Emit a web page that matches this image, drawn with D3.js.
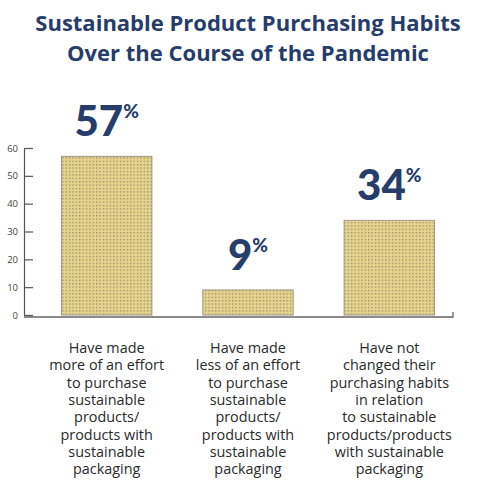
<!DOCTYPE html>
<html>
<head>
<meta charset="utf-8">
<script src="https://cdn.jsdelivr.net/npm/d3@7"></script>
<style>
  body { margin: 0; background: #fff; }
  svg { display: block; }
</style>
</head>
<body>
<div id="chart"></div>
<script>
// chart data
const categories = ["more", "less", "same"];
const values = [57, 9, 34];
const valueLabels = ["57", "9", "34"];
const categoryLines = [
  ["Have made", "more of an effort", "to purchase", "sustainable", "products/", "products with", "sustainable", "packaging"],
  ["Have made", "less of an effort", "to purchase", "sustainable", "products/", "products with", "sustainable", "packaging"],
  ["Have not", "changed their", "purchasing habits", "in relation", "to sustainable", "products/products", "with sustainable", "packaging"]
];
const yTicks = [0, 10, 20, 30, 40, 50, 60];
const titleLines = ["Sustainable Product Purchasing Habits", "Over the Course of the Pandemic"];

const width = 480;
const height = 492;
const navy = "#263d6b";
const font = "'Open Sans', sans-serif";

const svg = d3.select("#chart")
  .append("svg")
  .attr("width", width)
  .attr("height", height);

// dotted fill for the bars
const defs = svg.append("defs");
const pat = defs.append("pattern")
  .attr("id", "dots")
  .attr("patternUnits", "userSpaceOnUse")
  .attr("width", 3.4)
  .attr("height", 3.4);
pat.append("rect")
  .attr("width", 3.4)
  .attr("height", 3.4)
  .attr("fill", "#e4d38c");
pat.append("rect")
  .attr("x", 1)
  .attr("y", 1)
  .attr("width", 1.1)
  .attr("height", 1.1)
  .attr("fill", "#7a7058");

// title
svg.append("g")
  .selectAll("text")
  .data(titleLines)
  .enter()
  .append("text")
  .attr("x", 248)
  .attr("y", (d, i) => 31 + i * 30)
  .attr("text-anchor", "middle")
  .attr("font-family", font)
  .attr("font-weight", 700)
  .style("font-size", "22px")
  .attr("fill", navy)
  .text(d => d);

// scales
const x = d3.scaleBand()
  .domain(categories)
  .range([36, 460])
  .paddingInner(0.36)
  .paddingOuter(0.18);

const y = d3.scaleLinear()
  .domain([0, 60])
  .range([315, 148]);

// y axis (ticks point into the plot, labels on the left)
const yAxis = svg.append("g")
  .attr("transform", "translate(24,0)")
  .call(d3.axisLeft(y).tickValues(yTicks).tickSize(-9).tickSizeOuter(0).tickPadding(6));
yAxis.select(".domain").attr("stroke", "#555").attr("stroke-width", 1.2);
yAxis.selectAll(".tick line").attr("stroke", "#555").attr("stroke-width", 1.2);
yAxis.selectAll(".tick text")
  .attr("font-family", font)
  .style("font-size", "9.5px")
  .attr("fill", "#444");

// bars
svg.append("g")
  .selectAll("rect")
  .data(values)
  .enter()
  .append("rect")
  .attr("x", (d, i) => x(categories[i]))
  .attr("y", d => y(d))
  .attr("width", x.bandwidth())
  .attr("height", d => y(0) - y(d))
  .attr("fill", "url(#dots)")
  .attr("stroke", "#a09a88")
  .attr("stroke-width", 1);

// x axis baseline with small end tick
svg.append("path")
  .attr("d", `M24,${y(0) + 2}H453V${y(0) - 3}`)
  .attr("fill", "none")
  .attr("stroke", "#666")
  .attr("stroke-width", 1.3);

// big value labels
const valText = svg.append("g")
  .selectAll("text")
  .data(values)
  .enter()
  .append("text")
  .attr("x", (d, i) => x(categories[i]) + x.bandwidth() / 2)
  .attr("y", d => y(d) - 20)
  .attr("text-anchor", "middle")
  .attr("font-family", "Lato, sans-serif")
  .attr("font-weight", 900)
  .attr("fill", navy);
valText.append("tspan")
  .style("font-size", "42px")
  .text((d, i) => valueLabels[i]);
valText.append("tspan")
  .style("font-size", "19px")
  .attr("dy", "-0.95em")
  .text("%");

// category labels
svg.append("g")
  .selectAll("text")
  .data(categoryLines)
  .enter()
  .append("text")
  .attr("text-anchor", "middle")
  .attr("font-family", font)
  .style("font-size", "14.4px")
  .attr("fill", "#2a2a2a")
  .each(function(lines, i) {
    const cx = x(categories[i]) + x.bandwidth() / 2;
    d3.select(this).selectAll("tspan")
      .data(lines)
      .enter()
      .append("tspan")
      .attr("x", cx)
      .attr("y", (d, j) => 353 + j * 17.3)
      .text(d => d);
  });
</script>
</body>
</html>
